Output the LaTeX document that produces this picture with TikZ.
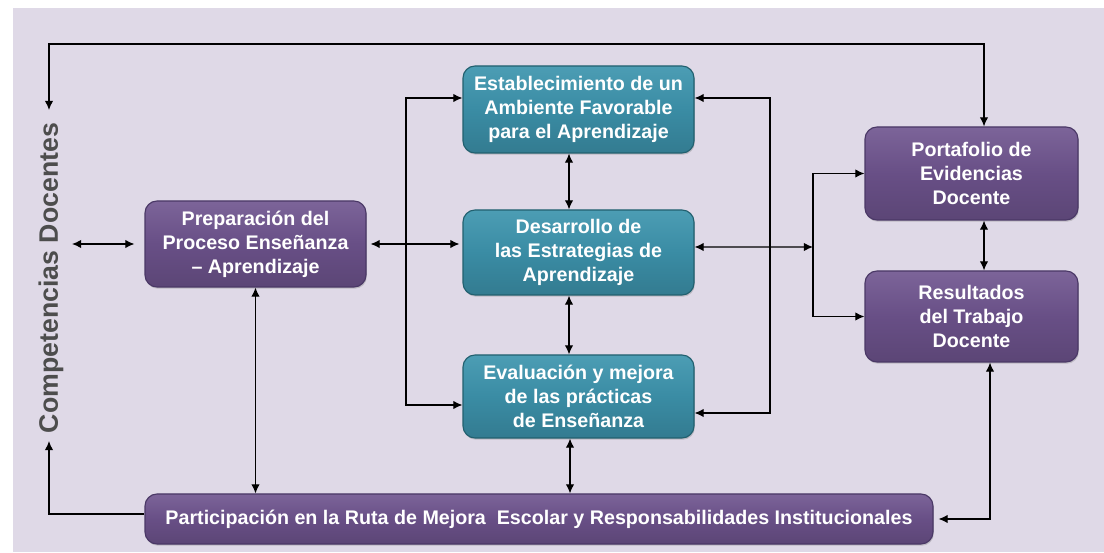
\documentclass[tikz,border=0pt]{standalone}
\usepackage{fontspec}
\setmainfont{Liberation Sans}
\usetikzlibrary{arrows.meta,positioning,calc,shadows}
\definecolor{Backdrop}{HTML}{DFD9E7}
\definecolor{Plum}{HTML}{684F86}
\definecolor{PlumLight}{HTML}{7C6499}
\definecolor{PlumDark}{HTML}{4A3866}
\definecolor{Teal}{HTML}{3A8CA4}
\definecolor{TealLight}{HTML}{4C9DB4}
\definecolor{TealDark}{HTML}{22606F}
\definecolor{Slate}{HTML}{4D4D4D}

\begin{document}
\begin{tikzpicture}[x=1cm,y=1cm,>={Latex[length=6.5pt,width=6pt]},
  box/.style={rounded corners=0.3cm,inner sep=0pt,align=center,text=white,font=\fontsize{14}{17}\selectfont\bfseries,line width=0.8pt,drop shadow={opacity=0.35,shadow xshift=0.6pt,shadow yshift=-1.2pt}},
  plumbox/.style={box,draw=PlumDark,top color=PlumLight,bottom color=Plum!88!black,middle color=Plum},
  tealbox/.style={box,draw=TealDark,top color=TealLight,bottom color=Teal!88!black,middle color=Teal},
  link/.style={black,line width=0.9pt}]
\useasboundingbox (0,0) rectangle (27.6,13.8);
\fill[Backdrop] (0.325,0) rectangle (27.6,13.6);
\node[plumbox,minimum width=5.525cm,minimum height=2.15cm] (prep) at (6.3875,7.7) {Preparación del\\Proceso Enseñanza\\– Aprendizaje};
\node[tealbox,minimum width=5.775cm,minimum height=2.175cm] (estab) at (14.4625,11.0625) {Establecimiento de un\\Ambiente Favorable\\para el Aprendizaje};
\node[tealbox,minimum width=5.775cm,minimum height=2.125cm] (desarr) at (14.4625,7.4875) {Desarrollo de\\las Estrategias de\\Aprendizaje};
\node[tealbox,minimum width=5.775cm,minimum height=2.075cm] (evalu) at (14.4625,3.8875) {Evaluación y mejora\\de las prácticas\\de Enseñanza};
\node[plumbox,minimum width=5.325cm,minimum height=2.325cm] (portaf) at (24.2875,9.4625) {Portafolio de\\Evidencias\\Docente};
\node[plumbox,minimum width=5.325cm,minimum height=2.275cm] (result) at (24.2875,5.8875) {Resultados\\del Trabajo\\Docente};
\node[plumbox,minimum width=19.7cm,minimum height=1.25cm] (partic) at (13.475,0.825) {Participación en la Ruta de Mejora~ Escolar y Responsabilidades Institucionales};
\node[rotate=90,text=Slate,font=\fontsize{19}{22}\selectfont\bfseries] (comp) at (1.275,6.85) {Competencias Docentes};
\coordinate (ctop) at (1.225,11.05);
\coordinate (cbot) at (1.225,2.775);
\coordinate (cmid) at (1.8,7.7);
\coordinate (lj) at (10.15,7.7);
\coordinate (rb) at (19.25,7.625);
\coordinate (rj) at (20.325,7.625);
\draw[link,<->] (ctop) -- ++(0,1.65) -| ([xshift=0.3125cm]portaf.north);
\draw[link,->] ([yshift=0.125cm]partic.west) -| (cbot);
\draw[link,<->,shorten >=0.25cm] (cmid) -- (prep.west);
\draw[link,<->,shorten <=0.1cm,shorten >=0.075cm] (prep.east) -- (prep.east -| desarr.west);
\draw[link,<->] ([yshift=0.2875cm]estab.west) -| (lj) |- ([yshift=-0.2125cm]evalu.west);
\draw[link,<->] ([yshift=0.2875cm]estab.east) -| (rb) |- ([yshift=-0.4125cm]evalu.east);
\draw[link,<->] (prep.south) -- (prep.south |- partic.north);
\draw[link,<->] ([xshift=-0.2375cm]estab.south) -- ([xshift=-0.2375cm]desarr.north);
\draw[link,<->] ([xshift=-0.2375cm]desarr.south) -- ([xshift=-0.2375cm]evalu.north);
\draw[link,<->] ([xshift=-0.2125cm]evalu.south) -- ([xshift=-0.2125cm]evalu.south |- partic.north);
\draw[link,<->] ([yshift=0.1375cm]desarr.east) -- (rj);
\draw[link,<->] (portaf.west) -| (rj) |- (result.west);
\draw[link,<->] ([xshift=0.3125cm]portaf.south) -- ([xshift=0.3125cm]result.north);
\draw[link,<->,shorten >=0.125cm] ([xshift=0.4625cm]result.south) |- (partic.east);
\end{tikzpicture}
\end{document}
